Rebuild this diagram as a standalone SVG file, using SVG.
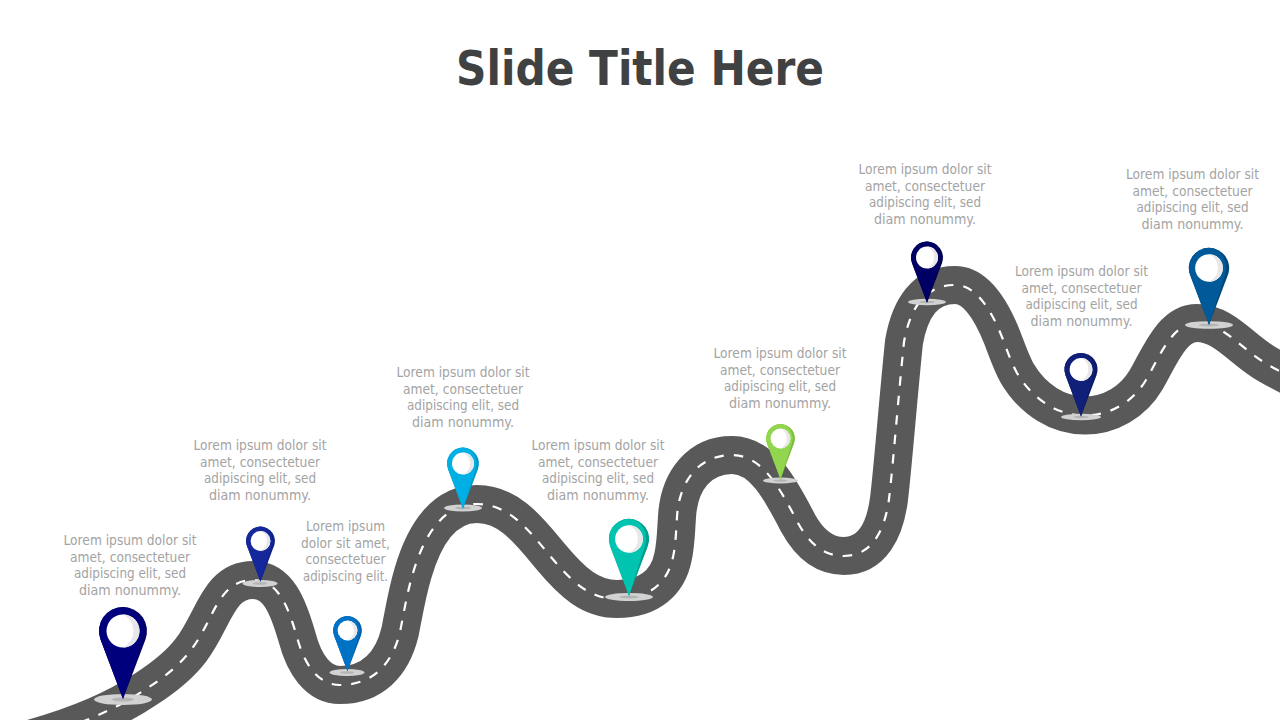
<svg xmlns="http://www.w3.org/2000/svg" width="1280" height="720" viewBox="0 0 1280 720">
<style>
.title{font:bold 48px "DejaVu Sans",sans-serif;fill:#404143;text-anchor:middle}
.t{font:14px "DejaVu Sans",sans-serif;fill:#a3a3a3;text-anchor:middle}
.road{fill:none;stroke:#595959;stroke-width:38}
.dash{fill:none;stroke:#fff;stroke-width:2.2;stroke-dasharray:9.500 10;stroke-dashoffset:3}
.sh{fill:#d2d2d2}
.shi{fill:#b4b4b4}
.hole{fill:#fff}
.cres{fill:#e8e8e8}
</style>
<defs>
<path id="road" d="M-10 750L33 738C72 727 112 712 146 689C163 678 179 666 191 650C214 620 218 580 253 580C278 580 288 606 297 637C304 664 318 685 340 685C372 685 392 665 400 632C404 612 407 593 413 573C425 532 445 504 477 504C510 504 530 532 551 557C572 582 590 599 617 599C650 599 668 582 673 557C676 544 676 530 677 517C679 480 700 455 732 455C762 455 780 488 798 523C810 545 825 556 844 556C872 556 885 530 889 499C893 466 898 400 904 342C910 308 925 285 955 285C975 285 990 307 1002 337C1007 350 1011 362 1017 373C1033 400 1058 415.500 1085 415.500C1110 415.500 1133 402 1146 380C1160 356 1172 323 1197 323C1222 323 1240 347 1262 361C1274 369 1288 375 1300 382"/>
<path id="pb" d="M0 68L-22.460 8.470A24 24 0 1 1 22.460 8.470Z"/>
<path id="pf" d="M0 68L-22.460 8.470A24 24 0 0 1 0-24A21 24 0 0 1 19 8.470Z"/>
<g id="eye"><circle class="hole" r="16.500"/><path class="cres" d="M0-16.500A16.500 16.500 0 0 1 0 16.500A18.200 18.200 0 0 0 0-16.500Z"/></g>
</defs>
<text class="title" x="640" y="84.500" textLength="368" lengthAdjust="spacingAndGlyphs">Slide Title Here</text>
<g id="connectors">
<use href="#road" class="road"/>
<use href="#road" class="dash"/>
</g>
<g id="node1">
<text class="t" x="130" y="544.500" textLength="133" lengthAdjust="spacingAndGlyphs">Lorem ipsum dolor sit</text><text class="t" x="130" y="561.500" textLength="120" lengthAdjust="spacingAndGlyphs">amet, consectetuer</text><text class="t" x="130" y="578" textLength="112" lengthAdjust="spacingAndGlyphs">adipiscing elit, sed</text><text class="t" x="130" y="594.500" textLength="102" lengthAdjust="spacingAndGlyphs">diam nonummy.</text>
<ellipse class="sh" cx="123" cy="699.500" rx="29" ry="5.500"/><ellipse class="shi" cx="123" cy="699.500" rx="11" ry="2"/>
<g transform="translate(123 631)"><use href="#pb" fill="#000068"/><use href="#pf" fill="#00007c"/><use href="#eye"/></g>
</g>
<g id="node2">
<text class="t" x="260" y="449.500" textLength="133" lengthAdjust="spacingAndGlyphs">Lorem ipsum dolor sit</text><text class="t" x="260" y="466.500" textLength="120" lengthAdjust="spacingAndGlyphs">amet, consectetuer</text><text class="t" x="260" y="483" textLength="112" lengthAdjust="spacingAndGlyphs">adipiscing elit, sed</text><text class="t" x="260" y="499.500" textLength="102" lengthAdjust="spacingAndGlyphs">diam nonummy.</text>
<ellipse class="sh" cx="260" cy="583.500" rx="17.500" ry="3.500"/><ellipse class="shi" cx="260" cy="583.500" rx="7" ry="1.300"/>
<g transform="translate(260.500 541) scale(.6)"><use href="#pb" fill="#0f2080"/><use href="#pf" fill="#14279b"/><use href="#eye"/></g>
</g>
<g id="node3">
<text class="t" x="345.500" y="530.500" textLength="79" lengthAdjust="spacingAndGlyphs">Lorem ipsum</text><text class="t" x="345.500" y="547.500" textLength="89" lengthAdjust="spacingAndGlyphs">dolor sit amet,</text><text class="t" x="345.500" y="564" textLength="80" lengthAdjust="spacingAndGlyphs">consectetuer</text><text class="t" x="345.500" y="580.500" textLength="85" lengthAdjust="spacingAndGlyphs">adipiscing elit.</text>
<ellipse class="sh" cx="347" cy="672.500" rx="17.500" ry="3.500"/><ellipse class="shi" cx="347" cy="672.500" rx="7" ry="1.300"/>
<g transform="translate(347.500 630.500) scale(.6)"><use href="#pb" fill="#005ea6"/><use href="#pf" fill="#0072c6"/><use href="#eye"/></g>
</g>
<g id="node4">
<text class="t" x="463" y="376.500" textLength="133" lengthAdjust="spacingAndGlyphs">Lorem ipsum dolor sit</text><text class="t" x="463" y="393.500" textLength="120" lengthAdjust="spacingAndGlyphs">amet, consectetuer</text><text class="t" x="463" y="410" textLength="112" lengthAdjust="spacingAndGlyphs">adipiscing elit, sed</text><text class="t" x="463" y="426.500" textLength="102" lengthAdjust="spacingAndGlyphs">diam nonummy.</text>
<ellipse class="sh" cx="463" cy="508" rx="19" ry="3.500"/><ellipse class="shi" cx="463" cy="508" rx="8" ry="1.300"/>
<g transform="translate(463 463.500) scale(.665)"><use href="#pb" fill="#0098c8"/><use href="#pf" fill="#00b0e4"/><use href="#eye"/></g>
</g>
<g id="node5">
<text class="t" x="598" y="449.500" textLength="133" lengthAdjust="spacingAndGlyphs">Lorem ipsum dolor sit</text><text class="t" x="598" y="466.500" textLength="120" lengthAdjust="spacingAndGlyphs">amet, consectetuer</text><text class="t" x="598" y="483" textLength="112" lengthAdjust="spacingAndGlyphs">adipiscing elit, sed</text><text class="t" x="598" y="499.500" textLength="102" lengthAdjust="spacingAndGlyphs">diam nonummy.</text>
<ellipse class="sh" cx="629" cy="597" rx="24" ry="4"/><ellipse class="shi" cx="629" cy="597" rx="10" ry="1.500"/>
<g transform="translate(629 539) scale(.84)"><use href="#pb" fill="#009c8c"/><use href="#pf" fill="#00c4b0"/><use href="#eye"/></g>
</g>
<g id="node6">
<text class="t" x="780" y="357.500" textLength="133" lengthAdjust="spacingAndGlyphs">Lorem ipsum dolor sit</text><text class="t" x="780" y="374.500" textLength="120" lengthAdjust="spacingAndGlyphs">amet, consectetuer</text><text class="t" x="780" y="391" textLength="112" lengthAdjust="spacingAndGlyphs">adipiscing elit, sed</text><text class="t" x="780" y="407.500" textLength="102" lengthAdjust="spacingAndGlyphs">diam nonummy.</text>
<ellipse class="sh" cx="780.500" cy="480.500" rx="17.500" ry="3"/><ellipse class="shi" cx="780.500" cy="480.500" rx="7" ry="1.200"/>
<g transform="translate(780.500 438.500) scale(.6)"><use href="#pb" fill="#7cbb3a"/><use href="#pf" fill="#92d650"/><use href="#eye"/></g>
</g>
<g id="node7">
<text class="t" x="925" y="173.500" textLength="133" lengthAdjust="spacingAndGlyphs">Lorem ipsum dolor sit</text><text class="t" x="925" y="190.500" textLength="120" lengthAdjust="spacingAndGlyphs">amet, consectetuer</text><text class="t" x="925" y="207" textLength="112" lengthAdjust="spacingAndGlyphs">adipiscing elit, sed</text><text class="t" x="925" y="223.500" textLength="102" lengthAdjust="spacingAndGlyphs">diam nonummy.</text>
<ellipse class="sh" cx="927" cy="302" rx="19" ry="3.200"/><ellipse class="shi" cx="927" cy="302" rx="8" ry="1.200"/>
<g transform="translate(927 257.500) scale(.665)"><use href="#pb" fill="#00004e"/><use href="#pf" fill="#000064"/><use href="#eye"/></g>
</g>
<g id="node8">
<text class="t" x="1081.500" y="275.500" textLength="133" lengthAdjust="spacingAndGlyphs">Lorem ipsum dolor sit</text><text class="t" x="1081.500" y="292.500" textLength="120" lengthAdjust="spacingAndGlyphs">amet, consectetuer</text><text class="t" x="1081.500" y="309" textLength="112" lengthAdjust="spacingAndGlyphs">adipiscing elit, sed</text><text class="t" x="1081.500" y="325.500" textLength="102" lengthAdjust="spacingAndGlyphs">diam nonummy.</text>
<ellipse class="sh" cx="1081" cy="417" rx="20" ry="3.200"/><ellipse class="shi" cx="1081" cy="417" rx="8" ry="1.200"/>
<g transform="translate(1081 369.500) scale(.69)"><use href="#pb" fill="#0c1860"/><use href="#pf" fill="#101f78"/><use href="#eye"/></g>
</g>
<g id="node9">
<text class="t" x="1192.500" y="178.500" textLength="133" lengthAdjust="spacingAndGlyphs">Lorem ipsum dolor sit</text><text class="t" x="1192.500" y="195.500" textLength="120" lengthAdjust="spacingAndGlyphs">amet, consectetuer</text><text class="t" x="1192.500" y="212" textLength="112" lengthAdjust="spacingAndGlyphs">adipiscing elit, sed</text><text class="t" x="1192.500" y="228.500" textLength="102" lengthAdjust="spacingAndGlyphs">diam nonummy.</text>
<ellipse class="sh" cx="1209" cy="325" rx="24" ry="3.800"/><ellipse class="shi" cx="1209" cy="325" rx="10" ry="1.400"/>
<g transform="translate(1209 268) scale(.84)"><use href="#pb" fill="#00487c"/><use href="#pf" fill="#005a9a"/><use href="#eye"/></g>
</g>
</svg>
